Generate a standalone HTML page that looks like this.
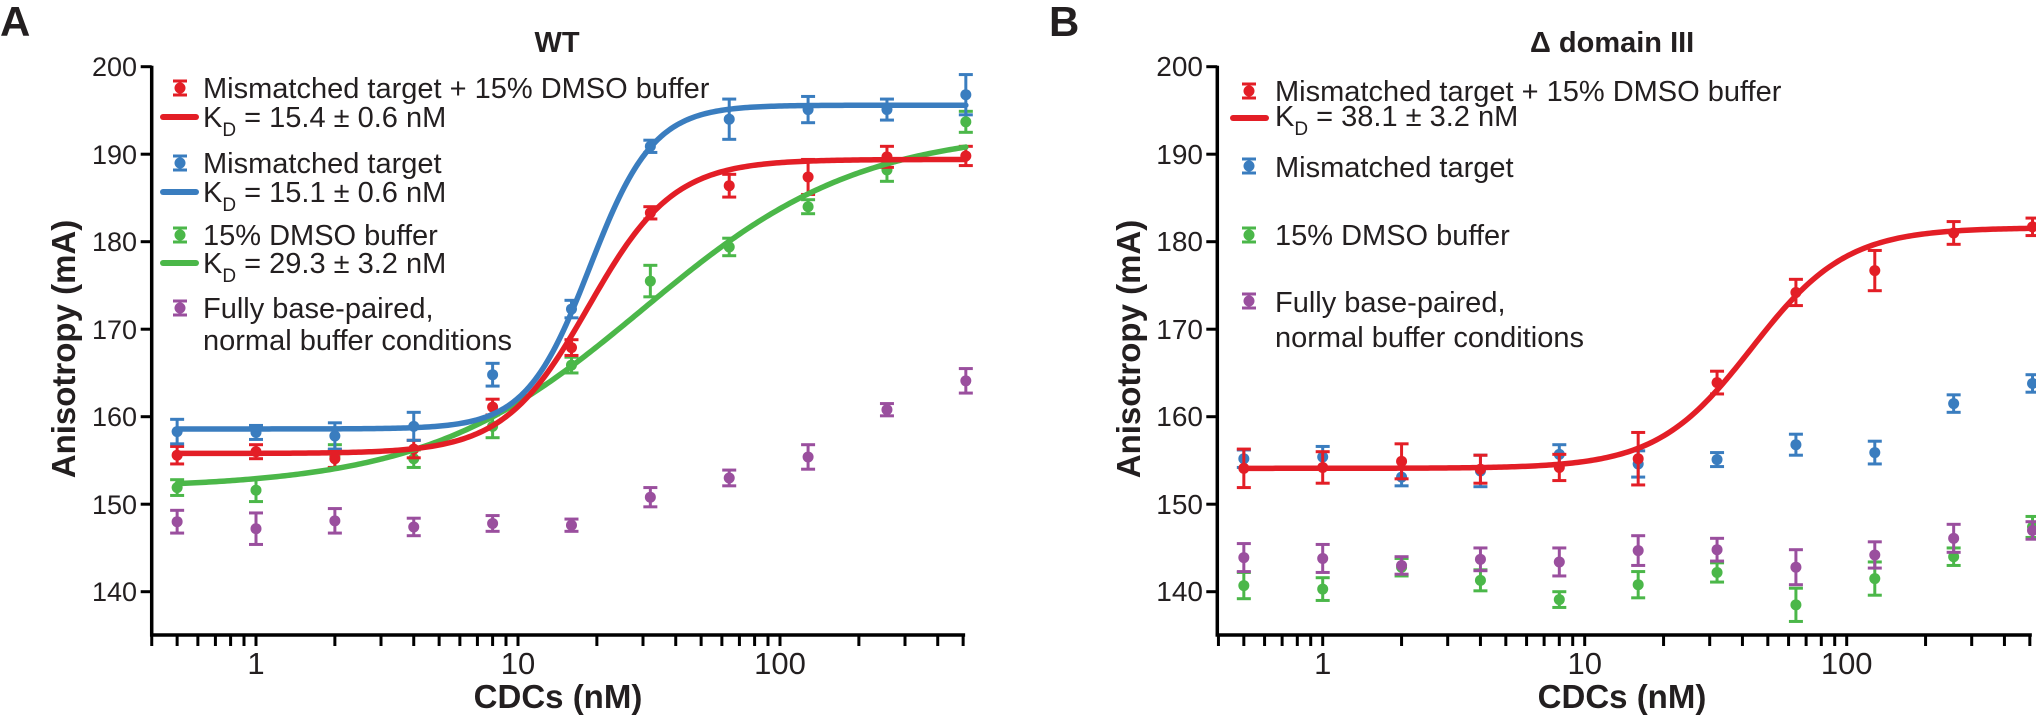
<!DOCTYPE html>
<html><head><meta charset="utf-8">
<style>
html,body{margin:0;padding:0;background:#fff;}
svg{display:block;}
text{font-family:"Liberation Sans",Arial,sans-serif;fill:#231f20;}
</style></head>
<body>
<svg id="s" width="2036" height="722" viewBox="0 0 2036 722" xmlns="http://www.w3.org/2000/svg">
<g id="g"></g>
<!-- Panel labels and titles -->
<text x="0" y="36" font-size="42" font-weight="bold" fill="#000">A</text>
<text x="1049" y="36" font-size="42" font-weight="bold" fill="#000">B</text>
<text x="557" y="52" font-size="29" font-weight="bold" text-anchor="middle">WT</text>
<text x="1530" y="52" font-size="29" font-weight="bold">Δ domain III</text>

<!-- Y axis titles -->
<text transform="translate(75,349) rotate(-90)" font-size="33" font-weight="bold" text-anchor="middle" fill="#000">Anisotropy (mA)</text>
<text transform="translate(1140,349) rotate(-90)" font-size="33" font-weight="bold" text-anchor="middle" fill="#000">Anisotropy (mA)</text>

<!-- X axis titles -->
<text x="558" y="708" font-size="33" font-weight="bold" text-anchor="middle" fill="#000">CDCs (nM)</text>
<text x="1622" y="708" font-size="33" font-weight="bold" text-anchor="middle" fill="#000">CDCs (nM)</text>

<!-- Y tick labels A -->
<g font-size="27" text-anchor="end">
<text x="137" y="76">200</text>
<text x="137" y="164">190</text>
<text x="137" y="251">180</text>
<text x="137" y="339">170</text>
<text x="137" y="426">160</text>
<text x="137" y="514">150</text>
<text x="137" y="601">140</text>
</g>
<g font-size="28" text-anchor="end">
<text x="1203" y="76">200</text>
<text x="1203" y="164">190</text>
<text x="1203" y="251">180</text>
<text x="1203" y="339">170</text>
<text x="1203" y="426">160</text>
<text x="1203" y="514">150</text>
<text x="1203" y="601">140</text>
</g>
<!-- X tick labels -->
<g font-size="31" text-anchor="middle">
<text x="256" y="674">1</text>
<text x="518" y="674">10</text>
<text x="780" y="674">100</text>
<text x="1322.7" y="674">1</text>
<text x="1584.7" y="674">10</text>
<text x="1846.7" y="674">100</text>
</g>

<!-- Legend A -->
<g font-size="29">
<text x="203" y="98">Mismatched target + 15% DMSO buffer</text>
<text x="203" y="127">K<tspan font-size="19" dy="9">D</tspan><tspan dy="-9"> = 15.4 ± 0.6 nM</tspan></text>
<text x="203" y="173">Mismatched target</text>
<text x="203" y="202">K<tspan font-size="19" dy="9">D</tspan><tspan dy="-9"> = 15.1 ± 0.6 nM</tspan></text>
<text x="203" y="245">15% DMSO buffer</text>
<text x="203" y="273">K<tspan font-size="19" dy="9">D</tspan><tspan dy="-9"> = 29.3 ± 3.2 nM</tspan></text>
<text x="203" y="318">Fully base-paired,</text>
<text x="203" y="350">normal buffer conditions</text>
</g>
<!-- Legend B -->
<g font-size="29">
<text x="1275" y="101">Mismatched target + 15% DMSO buffer</text>
<text x="1275" y="126">K<tspan font-size="19" dy="9">D</tspan><tspan dy="-9"> = 38.1 ± 3.2 nM</tspan></text>
<text x="1275" y="177">Mismatched target</text>
<text x="1275" y="245">15% DMSO buffer</text>
<text x="1275" y="312">Fully base-paired,</text>
<text x="1275" y="347">normal buffer conditions</text>
</g>
</svg>
<script>
(function(){
var NS="http://www.w3.org/2000/svg";
var g=document.getElementById("g");
function el(t,a){var e=document.createElementNS(NS,t);for(var k in a)e.setAttribute(k,a[k]);g.appendChild(e);return e;}
var R="#e31e26",Bl="#3a7dbf",Gr="#4bb749",P="#9a4f9e";
function Y(v){return 591.7-(v-140)*8.75;}
function XA(c){return 256+262*Math.log10(c);}
function XB(c){return 1322.7+262*Math.log10(c);}
var conc=[0.5,1,2,4,8,16,32,64,128,256,512];

function axes(x0,X){
  var yTop=Y(200), yAx=635;
  var xEnd=X(500)+2;
  el("line",{x1:x0,y1:yTop-1,x2:x0,y2:yAx+1.5,stroke:"#000","stroke-width":3.5});
  el("line",{x1:x0-1.7,y1:yAx,x2:xEnd,y2:yAx,stroke:"#000","stroke-width":3.5});
  for(var v=140;v<=200;v+=10){el("line",{x1:x0-11,y1:Y(v),x2:x0,y2:Y(v),stroke:"#000","stroke-width":3});}
  var decs=[0.1,1,10,100];
  for(var d=0;d<decs.length;d++){for(var m=1;m<=9;m++){var c=decs[d]*m;if(c<0.399||c>500.1)continue;var x=X(c);
    el("line",{x1:x,y1:yAx,x2:x,y2:yAx+11,stroke:"#000","stroke-width":3});}}
}
axes(151.7,XA);
axes(1217.3,XB);

function pt(x,v,e,col){
  var y=Y(v),t=Y(v+e),b=Y(v-e);
  el("line",{x1:x,y1:t,x2:x,y2:b,stroke:col,"stroke-width":3});
  el("line",{x1:x-7,y1:t,x2:x+7,y2:t,stroke:col,"stroke-width":3});
  el("line",{x1:x-7,y1:b,x2:x+7,y2:b,stroke:col,"stroke-width":3});
  el("circle",{cx:x,cy:y,r:5.5,fill:col});
}
function curve(X,f,col){
  var d="";for(var i=0;i<=300;i++){var lc=Math.log10(0.5)+i*(Math.log10(512)-Math.log10(0.5))/300;var c=Math.pow(10,lc);
    d+=(i?"L":"M")+X(c).toFixed(2)+","+Y(f(c)).toFixed(2);}
  el("path",{d:d,fill:"none",stroke:col,"stroke-width":5.5,"stroke-linecap":"round"});
}
function hill(b,t,K,n){return function(c){var q=Math.pow(c/K,n);return b+(t-b)*q/(1+q);};}

// Panel A data
var Ab=[158.3,158.2,157.8,158.9,164.8,172.3,190.9,194.0,195.1,195.1,196.8];
var AbE=[1.4,0.8,1.5,1.6,1.3,1.0,0.7,2.3,1.5,1.2,2.3];
var Ar=[155.6,156.0,155.2,156.3,161.1,167.9,183.3,186.4,187.4,189.7,189.8];
var ArE=[1.0,0.8,1.0,1.0,0.9,0.9,0.7,1.3,2.0,1.2,1.1];
var Ag=[151.9,151.6,155.5,155.2,158.9,165.9,175.5,179.4,184.0,188.2,193.7];
var AgE=[0.9,1.3,1.3,1.0,1.3,0.9,1.8,1.0,0.8,1.3,1.2];
var Ap=[148.0,147.2,148.1,147.4,147.8,147.6,150.8,153.0,155.4,160.8,164.1];
var ApE=[1.3,1.8,1.4,1.0,0.9,0.7,1.1,0.9,1.4,0.7,1.4];
for(var i=0;i<11;i++){var x=XA(conc[i]);
  pt(x,Ap[i],ApE[i],P);pt(x,Ag[i],AgE[i],Gr);pt(x,Ar[i],ArE[i],R);pt(x,Ab[i],AbE[i],Bl);}
curve(XA,hill(151.8,192.8,30,1.05),Gr);
curve(XA,hill(155.8,189.4,18.6,2.68),R);
curve(XA,hill(158.6,195.6,18.8,3.57),Bl);

// Panel B data
var Br=[154.1,154.2,154.9,154.0,154.2,155.2,163.9,174.2,176.7,181.0,181.7];
var BrE=[2.2,1.8,2.0,1.6,1.5,3.0,1.3,1.5,2.3,1.3,1.0];
var Bb=[155.2,155.4,153.1,153.8,155.7,154.6,155.1,156.8,155.9,161.5,163.8];
var BbE=[1.0,1.2,1.0,1.8,1.1,1.5,0.8,1.2,1.3,1.0,1.0];
var Bp=[143.9,143.8,143.0,143.7,143.4,144.7,144.8,142.8,144.2,146.1,147.0];
var BpE=[1.6,1.6,1.0,1.3,1.6,1.7,1.3,2.0,1.5,1.6,1.0];
var Bg=[140.7,140.3,142.8,141.3,139.1,140.8,142.2,138.5,141.5,144.0,147.4];
var BgE=[1.5,1.3,1.0,1.2,0.9,1.5,1.1,1.9,1.9,1.0,1.2];
for(var i=0;i<11;i++){var x=XB(conc[i]);
  pt(x,Bg[i],BgE[i],Gr);pt(x,Bp[i],BpE[i],P);pt(x,Bb[i],BbE[i],Bl);pt(x,Br[i],BrE[i],R);}
curve(XB,hill(154.1,181.6,43.4,2.4),R);

// Legend symbols
function lpt(x,y,col){
  el("line",{x1:x,y1:y-7,x2:x,y2:y+7,stroke:col,"stroke-width":3});
  el("line",{x1:x-7,y1:y-7,x2:x+7,y2:y-7,stroke:col,"stroke-width":3});
  el("line",{x1:x-7,y1:y+7,x2:x+7,y2:y+7,stroke:col,"stroke-width":3});
  el("circle",{cx:x,cy:y,r:5.5,fill:col});
}
function lline(x1,x2,y,col){el("line",{x1:x1,y1:y,x2:x2,y2:y,stroke:col,"stroke-width":6,"stroke-linecap":"round"});}
lpt(180,88,R);lline(163,196,117,R);
lpt(180,163,Bl);lline(163,196,192,Bl);
lpt(180,235,Gr);lline(163,196,263,Gr);
lpt(180,308,P);
lpt(1249,91,R);lline(1233,1266,118,R);
lpt(1249,166,Bl);
lpt(1249,235,Gr);
lpt(1249,301,P);
})();
</script>
</body></html>
